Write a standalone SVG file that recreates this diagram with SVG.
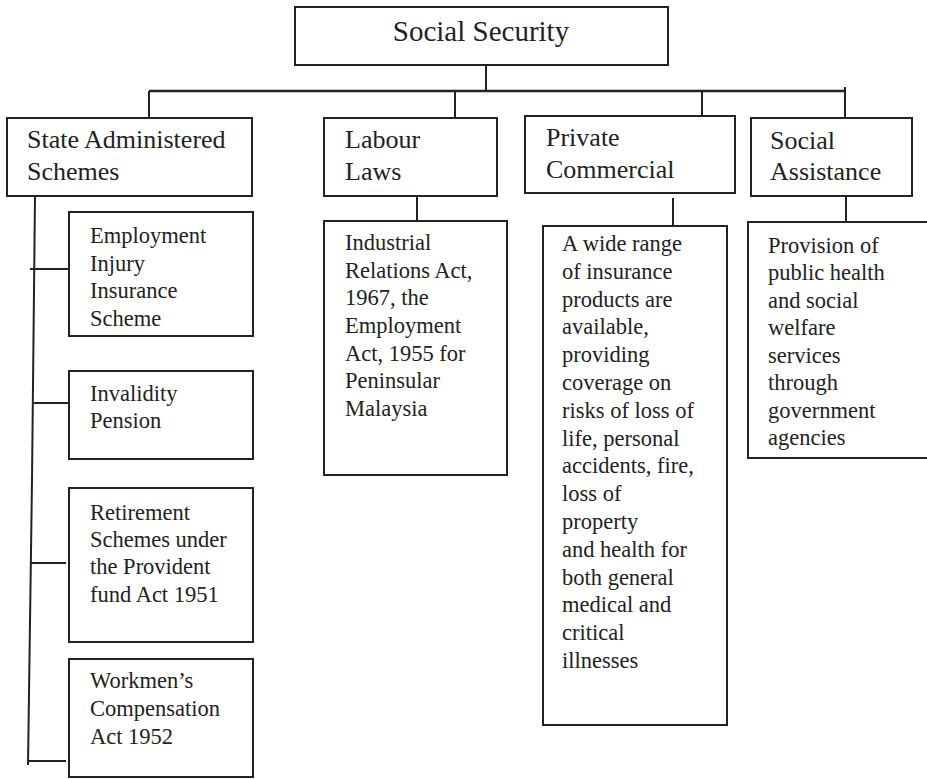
<svg xmlns="http://www.w3.org/2000/svg" width="927" height="779" viewBox="0 0 927 779">
<style>
.box{fill:#fff;stroke:#222;stroke-width:2}
.ln{fill:none;stroke:#222;stroke-width:2}
text{font-family:"Liberation Serif","Times New Roman",serif;fill:#222}
.t{font-size:29px}
.h{font-size:26px}
.c{font-size:22.5px}
</style>
<rect width="927" height="779" fill="#fff"/>
<g id="connectors" class="ln">
<path d="M486,65 V91"/>
<path d="M149,91 H845" stroke-width="2.5"/>
<path d="M149,91 V118 M455,91 V118 M702,91 V117 M845,87 V118"/>
<path d="M35,196 L32,480 L28,765"/>
<path d="M30,269 H69 M34,403 H69 M31,563 H66 M28,761 H66"/>
<path d="M417,196 V221"/>
<path d="M673,198 V226"/>
<path d="M846,196 V222"/>
</g>
<g id="social-security">
<rect class="box" x="295" y="7" width="373" height="58"/>
<text class="t" x="481" y="41" text-anchor="middle">Social Security</text>
</g>
<g id="state-administered">
<rect class="box" x="7" y="118" width="245" height="78"/>
<text class="h" x="27" y="148">State Administered</text>
<text class="h" x="27" y="180">Schemes</text>
</g>
<g id="labour-laws">
<rect class="box" x="324" y="118" width="173" height="78"/>
<text class="h" x="345" y="148">Labour</text>
<text class="h" x="345" y="180">Laws</text>
</g>
<g id="private-commercial">
<rect class="box" x="525" y="116" width="210" height="77"/>
<text class="h" x="546" y="146">Private</text>
<text class="h" x="546" y="178">Commercial</text>
</g>
<g id="social-assistance">
<rect class="box" x="751" y="118" width="161" height="78"/>
<text class="h" x="770" y="149">Social</text>
<text class="h" x="770" y="180">Assistance</text>
</g>
<g id="employment-injury">
<rect class="box" x="69" y="212" width="184" height="124"/>
<text class="c" x="90" y="243">Employment</text>
<text class="c" x="90" y="271">Injury</text>
<text class="c" x="90" y="298">Insurance</text>
<text class="c" x="90" y="326">Scheme</text>
</g>
<g id="invalidity-pension">
<rect class="box" x="69" y="371" width="184" height="88"/>
<text class="c" x="90" y="401">Invalidity</text>
<text class="c" x="90" y="428">Pension</text>
</g>
<g id="retirement-schemes">
<rect class="box" x="69" y="488" width="184" height="154"/>
<text class="c" x="90" y="520">Retirement</text>
<text class="c" x="90" y="547">Schemes under</text>
<text class="c" x="90" y="574">the Provident</text>
<text class="c" x="90" y="602">fund Act 1951</text>
</g>
<g id="workmens-compensation">
<rect class="box" x="69" y="659" width="184" height="118"/>
<text class="c" x="90" y="688">Workmen’s</text>
<text class="c" x="90" y="716">Compensation</text>
<text class="c" x="90" y="744">Act 1952</text>
</g>
<g id="industrial-relations">
<rect class="box" x="324" y="221" width="183" height="254"/>
<text class="c" x="345" y="250">Industrial</text>
<text class="c" x="345" y="278">Relations Act,</text>
<text class="c" x="345" y="305">1967, the</text>
<text class="c" x="345" y="333">Employment</text>
<text class="c" x="345" y="361">Act, 1955 for</text>
<text class="c" x="345" y="388">Peninsular</text>
<text class="c" x="345" y="416">Malaysia</text>
</g>
<g id="insurance-products">
<rect class="box" x="543" y="226" width="184" height="499"/>
<text class="c" x="562" y="251">A wide range</text>
<text class="c" x="562" y="279">of insurance</text>
<text class="c" x="562" y="307">products are</text>
<text class="c" x="562" y="334">available,</text>
<text class="c" x="562" y="362">providing</text>
<text class="c" x="562" y="390">coverage on</text>
<text class="c" x="562" y="418">risks of loss of</text>
<text class="c" x="562" y="446">life, personal</text>
<text class="c" x="562" y="473">accidents, fire,</text>
<text class="c" x="562" y="501">loss of</text>
<text class="c" x="562" y="529">property</text>
<text class="c" x="562" y="557">and health for</text>
<text class="c" x="562" y="585">both general</text>
<text class="c" x="562" y="612">medical and</text>
<text class="c" x="562" y="640">critical</text>
<text class="c" x="562" y="668">illnesses</text>
</g>
<g id="public-health">
<rect class="box" x="748" y="222" width="190" height="236"/>
<text class="c" x="768" y="253">Provision of</text>
<text class="c" x="768" y="280">public health</text>
<text class="c" x="768" y="308">and social</text>
<text class="c" x="768" y="335">welfare</text>
<text class="c" x="768" y="363">services</text>
<text class="c" x="768" y="390">through</text>
<text class="c" x="768" y="418">government</text>
<text class="c" x="768" y="445">agencies</text>
</g>
</svg>
